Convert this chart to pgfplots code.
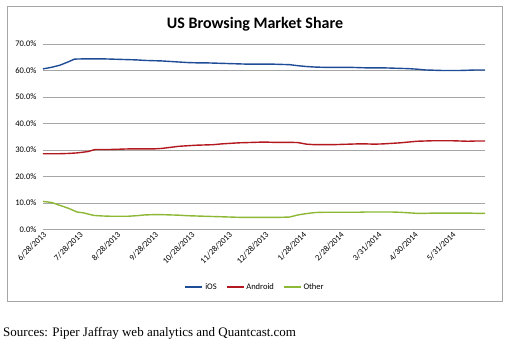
\documentclass[border=0pt]{standalone}
\usepackage{pgfplots}
\pgfplotsset{compat=1.18}
\usepackage{fontspec}
\setmainfont{Carlito}
\newfontfamily\srcfont{Liberation Serif}
\definecolor{iosblue}{HTML}{1F4C97}
\definecolor{andred}{HTML}{B3181E}
\definecolor{othgreen}{HTML}{8CB836}
\definecolor{gridgray}{HTML}{A6A6A6}
\begin{document}
\begin{tikzpicture}[x=1pt,y=1pt]
\useasboundingbox (0,0) rectangle (512,353);
\draw[gray!70, line width=0.8pt] (7,52) rectangle (502,347);
\node[font=\bfseries\fontsize{16}{18}\selectfont] at (255,329) {US Browsing Market Share};
\node[font=\srcfont\fontsize{13}{15}\selectfont, anchor=base west, inner sep=0pt] at (3,16) {Sources: Piper Jaffray web analytics and Quantcast.com};
\begin{axis}[
  at={(43pt,123.5pt)}, anchor=origin,
  scale only axis, width=442pt, height=185.5pt,
  xmin=0, xmax=364, ymin=0, ymax=70,
  axis line style={draw=none},
  ymajorgrids, grid style={gridgray, line width=0.8pt},
  major tick length=0pt,
  ytick={0,10,...,70},
  /pgf/number format/assume math mode=true,
  yticklabel={\pgfmathprintnumber[fixed,fixed zerofill,precision=1]{\tick}\%},
  y tick label style={font=\fontsize{8.5}{10}\selectfont, xshift=-3pt},
  xtick={0,30,61,92,122,153,183,214,245,276,306,337},
  xticklabels={6/28/2013,7/28/2013,8/28/2013,9/28/2013,10/28/2013,11/28/2013,12/28/2013,1/28/2014,2/28/2014,3/31/2014,4/30/2014,5/31/2014},
  x tick label style={font=\fontsize{8.5}{10}\selectfont, rotate=45, anchor=east, inner sep=1pt, yshift=-4pt},
  legend columns=3,
  legend style={draw=none, fill=none, at={(0.48,-0.31)}, anchor=center, font=\fontsize{8.5}{10}\selectfont,
    /tikz/every odd column/.append style={column sep=0pt},
    /tikz/every even column/.append style={column sep=7pt}},
  legend image code/.code={\draw[#1, line width=1.6pt] (0pt,0pt) -- (17pt,0pt);},
  clip=false,
]
\addplot[iosblue, line width=1.4pt] coordinates {
(0,60.6) (7,61.2) (14,62.0) (21,63.3) (26,64.3) (35,64.4) (42,64.4) (49,64.4) (56,64.3) (63,64.2) (70,64.1) (77,64.0) (84,63.8) (91,63.7) (98,63.6) (105,63.4) (112,63.2) (119,63.0) (126,62.9) (133,62.9) (140,62.8) (147,62.7) (154,62.6) (161,62.5) (168,62.4) (175,62.4) (182,62.4) (189,62.4) (196,62.3) (203,62.2) (210,61.8) (217,61.5) (224,61.3) (231,61.2) (238,61.2) (245,61.2) (252,61.2) (259,61.1) (266,61.0) (273,61.0) (280,61.0) (287,60.9) (294,60.8) (301,60.7) (308,60.5) (315,60.2) (322,60.1) (329,60.0) (336,60.0) (343,60.0) (350,60.1) (357,60.2) (364,60.2)};
\addlegendentry{iOS}
\addplot[andred, line width=1.4pt] coordinates {
(0,28.6) (7,28.6) (14,28.6) (21,28.7) (28,28.9) (37,29.4) (43,30.2) (49,30.2) (56,30.2) (63,30.3) (70,30.4) (77,30.4) (84,30.4) (91,30.4) (98,30.6) (105,31.0) (112,31.4) (119,31.6) (126,31.8) (133,31.9) (140,32.0) (147,32.3) (154,32.5) (161,32.7) (168,32.8) (175,32.9) (182,33.0) (189,32.9) (196,32.9) (203,32.9) (210,32.8) (217,32.2) (224,32.0) (231,32.0) (238,32.0) (245,32.1) (252,32.2) (259,32.3) (266,32.3) (273,32.2) (280,32.3) (287,32.5) (294,32.7) (301,33.0) (308,33.3) (315,33.4) (322,33.5) (329,33.5) (336,33.5) (343,33.4) (350,33.3) (357,33.4) (364,33.4)};
\addlegendentry{Android}
\addplot[othgreen, line width=1.4pt] coordinates {
(0,10.6) (7,10.2) (14,9.1) (21,8.0) (28,6.6) (33,6.3) (42,5.3) (49,5.1) (56,5.0) (63,5.0) (70,5.0) (77,5.2) (84,5.5) (91,5.6) (98,5.6) (105,5.5) (112,5.4) (119,5.2) (126,5.1) (133,5.0) (140,4.9) (147,4.8) (154,4.7) (161,4.6) (168,4.6) (175,4.6) (182,4.6) (189,4.6) (196,4.6) (203,4.7) (210,5.5) (217,6.0) (224,6.4) (231,6.5) (238,6.5) (245,6.5) (252,6.5) (259,6.5) (266,6.6) (273,6.6) (280,6.6) (287,6.6) (294,6.5) (301,6.3) (308,6.1) (315,6.1) (322,6.2) (329,6.2) (336,6.2) (343,6.2) (350,6.2) (357,6.1) (364,6.1)};
\addlegendentry{Other}
\end{axis}
\end{tikzpicture}
\end{document}
